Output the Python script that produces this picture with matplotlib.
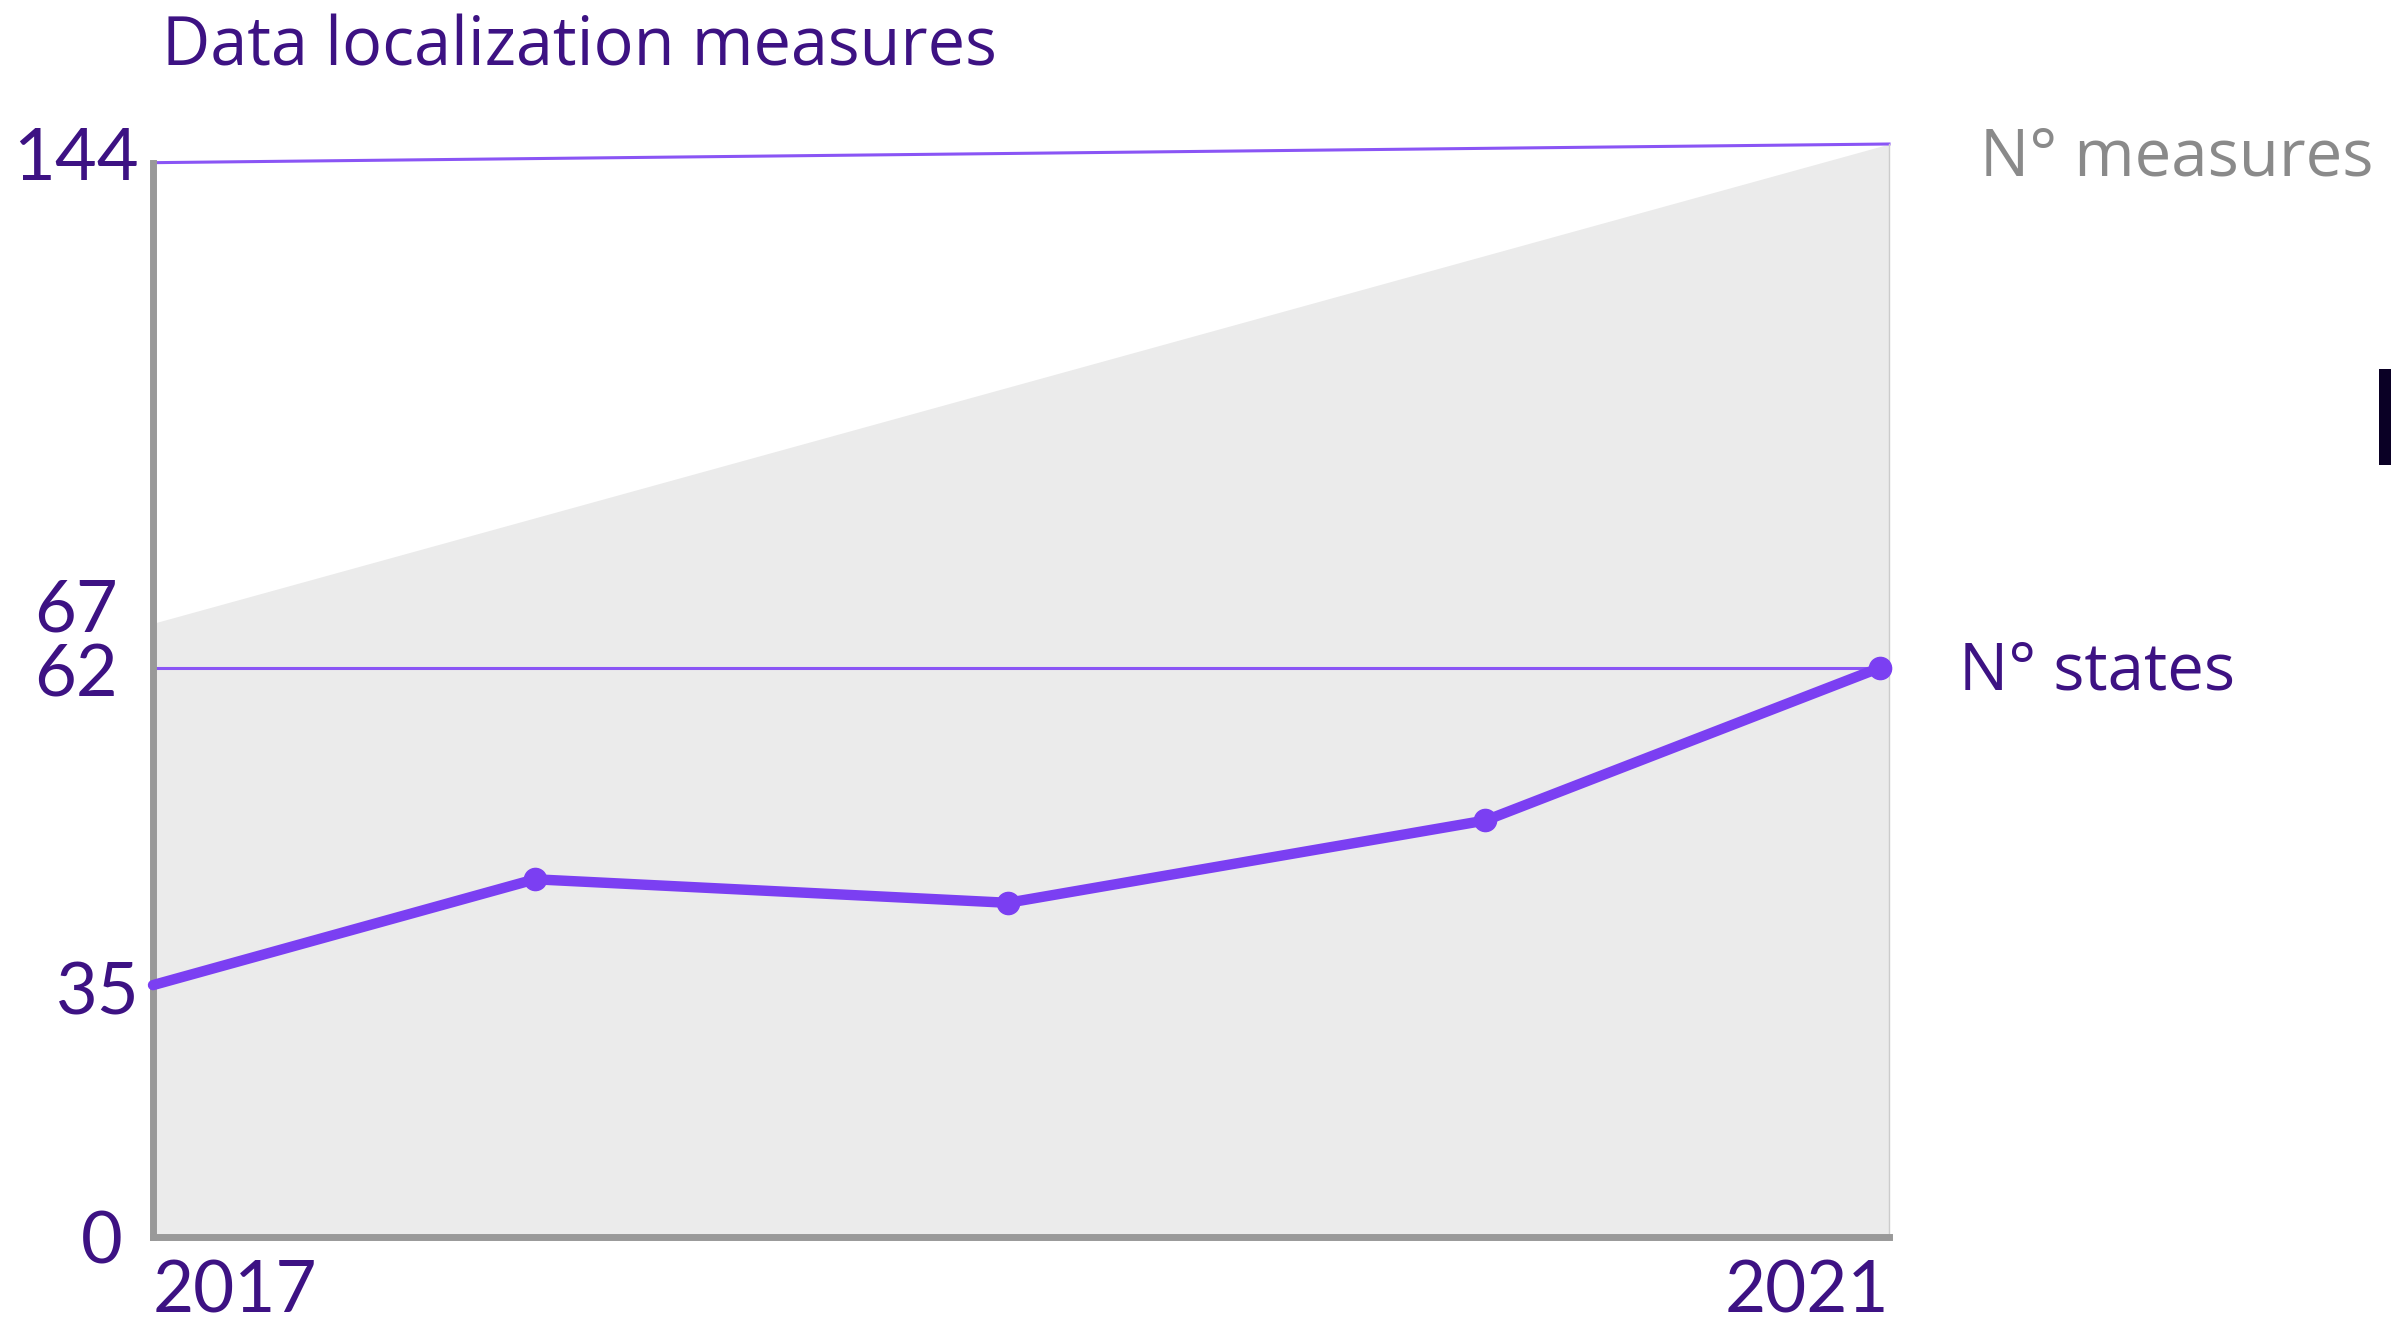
import numpy as np
import matplotlib
matplotlib.use("Agg")
import matplotlib.pyplot as plt
from matplotlib.patches import Rectangle

# data
measures_years = [2017, 2021]
measures = [67, 144]
top_line_years = [2017, 2021]
top_line = [141, 144]
states_years = [2017, 2017.88, 2018.97, 2020.07, 2020.98]
states = [35, 44, 42, 49, 62]
y_ticks = [0, 35, 62, 67, 144]
x_ticks = [2017, 2021]

# the y axis is not linear: each tick gets its own height (pixels above the x axis)
tick_height = [0, 165, 373, 402, 716]
# hand placed tick labels (pixel offsets from the axis)
label_dx = {0: -51, 35: -55, 62: -77, 67: -77, 144: -77}
label_dy = {0: 0, 35: -3, 62: -2, 67: 18, 144: -9}

def fwd(v):
    return np.interp(v, y_ticks, tick_height)

def inv(u):
    return np.interp(u, tick_height, y_ticks)

purple = "#3d1283"
violet = "#7b3ff2"
thin_violet = "#8a55f5"

fig = plt.figure(figsize=(23.94, 13.23), dpi=100)
ax = fig.add_axes([153 / 2394, 1 - 1237 / 1323, (1889 - 153) / 2394, (1237 - 144) / 1323])

ax.set_yscale("function", functions=(fwd, inv))
ax.set_xlim(2017, 2021)
ax.set_ylim(0, 144)

ax.fill_between(measures_years, 0, measures, color="#ebebeb", lw=0, zorder=1)
ax.plot(top_line_years, top_line, color=thin_violet, lw=2.2, zorder=2, clip_on=False)
ax.plot([2017, states_years[-1]], [states[-1], states[-1]], color=thin_violet, lw=2.2, zorder=2)
ax.plot(states_years, states, color=violet, lw=7.5, marker="o", markersize=16,
        markevery=[1, 2, 3, 4], solid_capstyle="round", zorder=3, clip_on=False)

ax.spines["top"].set_visible(False)
ax.spines["left"].set_color("#999999")
ax.spines["left"].set_linewidth(5)
ax.spines["left"].set_bounds(0, 141)
ax.spines["bottom"].set_color("#999999")
ax.spines["bottom"].set_linewidth(5)
ax.spines["right"].set_color("#cccccc")
ax.spines["right"].set_linewidth(1)
ax.spines["right"].set_bounds(0, 144)

ax.set_yticks([])
for t in y_ticks:
    ax.annotate(str(t), xy=(0, t), xycoords=("axes fraction", "data"),
                xytext=(label_dx[t], label_dy[t]), textcoords="offset pixels",
                ha="center", va="center_baseline", fontsize=52, color=purple, family="Lato")

ax.set_xticks(x_ticks)
ax.set_xticklabels([str(t) for t in x_ticks], fontsize=51, color=purple, family="Lato")
ax.tick_params(axis="both", length=0)
ax.tick_params(axis="x", pad=16)
xl = ax.get_xticklabels()
xl[0].set_ha("left")
xl[1].set_ha("right")

fig.text(162 / 2394, 1 - 48 / 1323, "Data localization measures", fontsize=48, color=purple,
         family="Open Sans", va="center", ha="left")
fig.text(1980 / 2394, 1 - 158 / 1323, "N° measures", fontsize=47, color="#8a8a8a",
         family="Open Sans", va="center", ha="left")
fig.text(1959 / 2394, 1 - 673 / 1323, "N° states", fontsize=47, color=purple,
         family="Open Sans", va="center", ha="left")

fig.patches.append(Rectangle((2379 / 2394, 1 - 465 / 1323), 12 / 2394, 96 / 1323,
                             transform=fig.transFigure, color="#0a0025", lw=0))

fig.savefig("out.png", dpi=100)
plt.close(fig)
